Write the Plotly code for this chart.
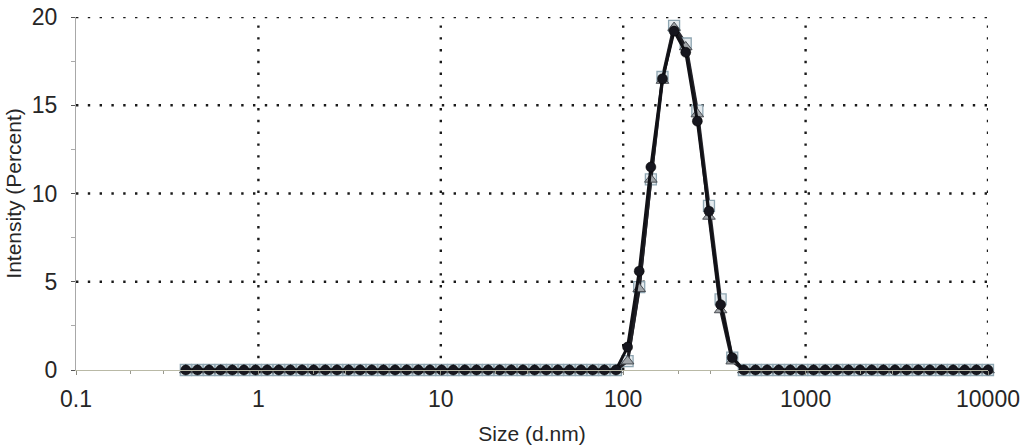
import plotly.graph_objects as go

# Size classes (d.nm) of the particle size distribution
sizes = [0.4, 0.4632, 0.5365, 0.6213, 0.7195, 0.8332, 0.9649, 1.117, 1.294, 1.499,
         1.736, 2.010, 2.328, 2.696, 3.122, 3.615, 4.187, 4.849, 5.615, 6.503,
         7.531, 8.721, 10.10, 11.70, 13.54, 15.69, 18.17, 21.04, 24.36, 28.21,
         32.67, 37.84, 43.82, 50.75, 58.77, 68.06, 78.82, 91.28, 105.7, 122.4,
         141.8, 164.2, 190.1, 220.2, 255.0, 295.3, 342.0, 396.1, 458.7, 531.2,
         615.1, 712.4, 825.0, 955.4, 1106, 1281, 1484, 1718, 1990, 2305,
         2669, 3091, 3580, 4145, 4801, 5560, 6439, 7456, 8635, 10000]

# Intensity (%) for three repeat measurements; nonzero only from 105.7 to 396.1 nm
_zeros_low = [0.0] * 38
_zeros_high = [0.0] * 22
run_1 = _zeros_low + [1.3, 5.6, 11.5, 16.5, 19.2, 18.0, 14.1, 9.0, 3.7, 0.7] + _zeros_high
run_2 = _zeros_low + [0.5, 4.6, 10.8, 16.4, 19.4, 18.3, 14.5, 8.7, 3.4, 0.5] + _zeros_high
run_3 = _zeros_low + [0.5, 4.7, 10.8, 16.6, 19.5, 18.5, 14.7, 9.3, 4.0, 0.7] + _zeros_high

x_ticks = [0.1, 1, 10, 100, 1000, 10000]
x_tick_text = ["0.1", "1", "10", "100", "1000", "10000"]
y_ticks = [0, 5, 10, 15, 20]
grid_x = [1, 10, 100, 1000, 10000]
grid_y = [5, 10, 15, 20]

fig = go.Figure()

fig.add_trace(go.Scatter(
    x=sizes, y=run_3, mode="lines+markers", cliponaxis=False,
    line=dict(color="#2a2a30", width=3),
    marker=dict(symbol="square", size=11, color="rgba(225,232,236,0.9)",
                line=dict(color="#8fa6b2", width=1.3)),
    showlegend=False))
fig.add_trace(go.Scatter(
    x=sizes, y=run_2, mode="lines+markers", cliponaxis=False,
    line=dict(color="#1e1e24", width=3),
    marker=dict(symbol="triangle-up", size=11, color="#a2a6aa",
                line=dict(color="#4a4e54", width=1)),
    showlegend=False))
fig.add_trace(go.Scatter(
    x=sizes, y=run_1, mode="lines+markers", cliponaxis=False,
    line=dict(color="#111116", width=3),
    marker=dict(symbol="circle", size=10, color="#16161e",
                line=dict(color="#000000", width=0.5)),
    showlegend=False))

# Dotted grid
dot_style = dict(color="#1a1a1a", width=2.4, dash="2.4px,9.4px")
for gx in grid_x:
    fig.add_shape(type="line", xref="x", yref="y", x0=gx, x1=gx, y0=0, y1=20,
                  line=dot_style, layer="below")
for gy in grid_y:
    fig.add_shape(type="line", xref="x", yref="y", x0=0.1, x1=10000, y0=gy, y1=gy,
                  line=dot_style, layer="below")

family = "Liberation Sans, Arial, sans-serif"
tick_font = dict(family=family, size=23, color="#262626")
title_font = dict(family=family, size=21, color="#262626")

fig.update_layout(
    width=1024, height=447,
    margin=dict(l=76, r=36, t=17, b=77),
    paper_bgcolor="white", plot_bgcolor="white",
    font=title_font,
)
fig.update_xaxes(
    type="log", range=[-1, 4], automargin=False,
    tickvals=x_ticks, ticktext=x_tick_text,
    showgrid=False, zeroline=False,
    showline=True, linecolor="#b9b9a6", linewidth=1,
    ticks="outside", ticklen=4, tickcolor="#8a8a80",
    ticklabelstandoff=4,
    minor=dict(tickvals=[0.2, 0.3, 2, 3, 20, 30, 200, 300, 2000, 3000],
               ticks="outside", ticklen=3, tickcolor="#9a9a90"),
    title=dict(text="Size (d.nm)", font=title_font),
    tickfont=tick_font,
)
fig.update_yaxes(
    range=[0, 20], automargin=False,
    tickvals=y_ticks,
    showgrid=False, zeroline=False,
    showline=True, linecolor="#a8a8a8", linewidth=1,
    ticks="outside", ticklen=4, tickcolor="#555555",
    ticklabelstandoff=9,
    minor=dict(tickvals=[2.5, 7.5, 12.5, 17.5], ticks="outside", ticklen=4,
               tickcolor="#aaaaaa"),
    title=dict(text="Intensity (Percent)", font=title_font, standoff=4),
    tickfont=tick_font,
)

fig.write_html("out.html")
